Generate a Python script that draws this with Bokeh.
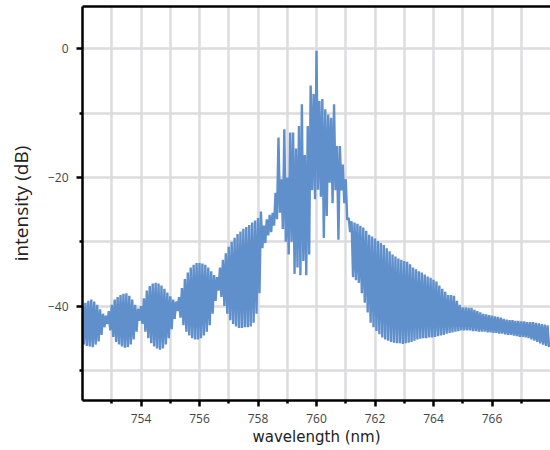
from bokeh.plotting import figure
from bokeh.models import LinearAxis, FixedTicker, Range1d
from bokeh.embed import file_html
from bokeh.resources import INLINE

# fringe peak values (dB) at wl_start + 0.1*i, troughs at +0.05 nm
wl_start = 752.0
hi = [
    -40.0, -39.5, -39.2, -39.0, -39.3, -39.8, -40.5, -41.2, -41.5,            # 752.0-752.8
    -40.8, -39.8, -39.0, -38.6, -38.3, -38.1, -38.0, -38.4, -39.0, -39.8, -40.4,  # 752.9-753.9
    -40.0, -38.8, -37.6, -36.9, -36.5, -36.4, -36.5, -36.8, -37.3, -37.9, -38.5, -39.0, -39.3,  # 754.0-755.2
    -38.6, -37.2, -35.8, -34.8, -34.0, -33.6, -33.3, -33.3, -33.4, -33.6, -34.0, -34.6, -35.2, -35.5,  # 755.3-756.6
    -34.0, -32.8, -31.8, -30.8, -30.0, -29.4, -28.8, -28.4, -28.0, -27.7, -27.4, -27.0, -26.7,  # 756.7-757.9
    -26.3, -25.3, -27.5, -26.5, -25.8, -25.5, -22.4,                          # 758.0-758.6
    -13.8, -20.3, -12.5, -20.0, -13.0, -13.0, -15.5, -12.0, -8.6, -16.5,       # 758.7-759.6
    -12.0, -5.7, -7.0, -0.3, -8.1, -7.8, -9.4, -10.2, -10.7, -8.6,             # 759.7-760.6
    -15.1, -15.1, -18.0, -20.3, -26.3, -26.8, -27.0, -27.2, -27.5, -27.8, -28.3,  # 760.7-761.7
    -28.9, -29.2, -29.5, -29.9, -30.2, -30.5, -31.0, -31.5, -32.0, -32.3, -32.6, -32.8,  # 761.8-762.9
    -33.0, -33.1, -33.5, -34.0, -34.3, -34.6, -34.8, -35.1, -35.4, -35.6,     # 763.0-763.9
    -35.9, -36.2, -36.8, -37.3, -37.8, -38.3, -38.3, -38.4, -39.2, -39.8,     # 764.0-764.9
    -40.2, -40.2, -40.3, -40.3, -40.6, -40.8, -41.0, -41.2, -41.3, -41.4,     # 765.0-765.9
    -41.5, -41.6, -41.7, -41.8, -42.0, -42.1, -42.2, -42.2, -42.3, -42.3,     # 766.0-766.9
    -42.4, -42.4, -42.5, -42.5, -42.5, -42.6, -42.7, -42.8, -42.9, -43.0,     # 767.0-767.9
]
lo = [
    -46.0, -46.2, -46.3, -46.4, -46.0, -45.5, -44.5, -43.3, -42.8,
    -43.8, -44.8, -45.6, -46.0, -46.3, -46.5, -46.4, -46.0, -45.2, -44.0, -42.3,
    -42.8, -44.0, -45.0, -45.8, -46.3, -46.6, -46.8, -46.6, -46.0, -45.0, -43.6, -42.0, -40.8,
    -41.8, -43.0, -44.0, -44.6, -45.0, -45.2, -45.2, -45.0, -44.6, -44.0, -43.0, -41.2, -39.2, -37.6,
    -38.6, -40.0, -41.2, -42.2, -42.8, -43.2, -43.4, -43.4, -43.3, -43.3, -43.2, -42.6, -41.2,
    -38.0, -31.0, -30.2, -29.0, -28.5, -27.5, -26.5,
    -25.5, -28.0, -30.0, -32.0, -30.0, -35.0, -34.0, -35.2, -33.0, -35.2,
    -32.0, -22.0, -23.4, -21.9, -23.0, -29.4, -26.0, -20.8, -24.0, -22.0,
    -29.7, -22.0, -24.0, -26.6, -28.5, -35.5, -36.0, -36.4, -38.0, -39.5, -41.0,
    -42.6, -43.3, -43.9, -44.4, -44.9, -45.2, -45.4, -45.6, -45.7, -45.8, -45.8, -45.9,
    -45.8, -45.7, -45.6, -45.4, -45.2, -45.1, -45.0, -45.0, -44.9, -44.9,
    -44.8, -44.7, -44.6, -44.5, -44.3, -44.2, -44.1, -44.0, -43.9, -43.8,
    -43.8, -43.8, -43.8, -43.9, -43.9, -44.0, -44.0, -44.0, -44.1, -44.1,
    -44.2, -44.2, -44.3, -44.3, -44.4, -44.5, -44.5, -44.6, -44.7, -44.8,
    -44.8, -44.9, -45.0, -45.2, -45.4, -45.6, -45.8, -46.0, -46.2, -46.4,
]

x_ticks = [754, 756, 758, 760, 762, 764, 766]
x_minor = [753, 755, 757, 759, 761, 763, 765, 767]
y_ticks = [-40, -20, 0]
y_minor = [-50, -30, -10]
x_label = "wavelength (nm)"
y_label = "intensity (dB)"

# interleave peaks and troughs into one trace
xs, ys = [], []
for i, (h, l) in enumerate(zip(hi, lo)):
    xs.append(wl_start + 0.1 * i)
    ys.append(h)
    xs.append(wl_start + 0.1 * i + 0.05)
    ys.append(l)

FONT = "Open Sans"

p = figure(width=550, height=450, output_backend="svg", toolbar_location=None,
           x_range=Range1d(752, 768), y_range=Range1d(-54.7, 6.6),
           min_border_left=82, min_border_right=0, min_border_top=6, min_border_bottom=50,
           x_axis_label=x_label, y_axis_label=y_label)
p.outline_line_color = None
p.background_fill_color = "white"

p.line(xs, ys, line_color="#6090cb", line_width=2.4)

p.xaxis.ticker = FixedTicker(ticks=x_ticks, minor_ticks=x_minor)
p.yaxis.ticker = FixedTicker(ticks=y_ticks, minor_ticks=y_minor)

for ax in (p.xaxis, p.yaxis):
    ax.axis_line_width = 2.5
    ax.axis_line_color = "black"
    ax.major_tick_line_width = 2.5
    ax.minor_tick_line_width = 2.5
    ax.major_tick_line_color = "black"
    ax.minor_tick_line_color = "black"
    ax.major_tick_in = 0
    ax.minor_tick_in = 0
    ax.major_tick_out = 6
    ax.minor_tick_out = 3
    ax.major_label_text_font = FONT
    ax.major_label_text_font_size = "12px"
    ax.major_label_text_color = "#444444"
    ax.axis_label_text_font_style = "normal"
    ax.axis_label_text_color = "#222222"

p.xaxis.axis_label_text_font = "DejaVu Sans"
p.xaxis.axis_label_text_font_size = "15px"
p.xaxis.major_label_standoff = 7
p.xaxis.axis_label_standoff = 2
p.yaxis.axis_label_text_font = FONT
p.yaxis.axis_label_text_font_size = "19px"
p.yaxis.major_label_standoff = 8
p.yaxis.axis_label_standoff = 11

for g in (p.xgrid, p.ygrid):
    g.grid_line_color = "#dcdcdf"
    g.grid_line_width = 2.5
    g.minor_grid_line_color = "#dcdcdf"
    g.minor_grid_line_width = 2.5

top = LinearAxis(ticker=FixedTicker(ticks=[]), axis_line_width=2.5, axis_line_color="black",
                 major_tick_line_color=None, minor_tick_line_color=None,
                 major_label_standoff=0, major_tick_out=0, minor_tick_out=0)
p.add_layout(top, "above")

open("out.html", "w").write(file_html(p, INLINE))
